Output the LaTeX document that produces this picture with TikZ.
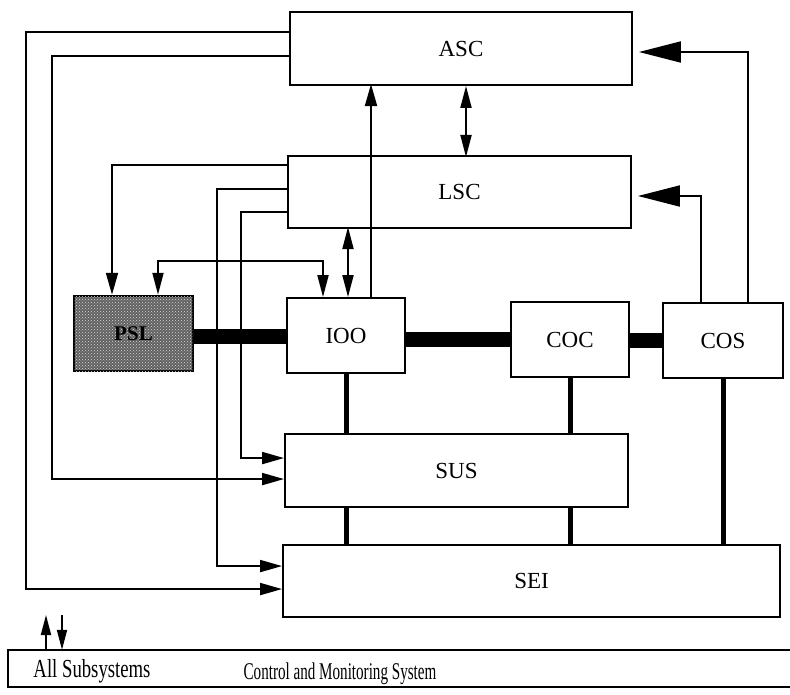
\documentclass[tikz,border=0pt]{standalone}
\usepackage{fontspec}
\usepackage{graphicx}
\setmainfont{Liberation Serif}
\usetikzlibrary{arrows.meta,patterns}
\begin{document}
\begin{tikzpicture}[x=1pt,y=-1pt,
  box/.style={draw, line width=1.9pt, inner sep=0pt, font=\fontsize{23}{25}\selectfont},
  wire/.style={line width=1.9pt},
  arr/.style={wire, -{Triangle[length=22pt,width=12pt]}},
  darr/.style={wire, {Triangle[length=22pt,width=11pt]}-{Triangle[length=22pt,width=11pt]}},
  bigarr/.style={wire, -{Triangle[length=42pt,width=21pt]}, shorten >=6pt},
  smallarr/.style={wire, -{Triangle[length=20pt,width=10pt]}},
  bus/.style={line width=15pt},
  stem/.style={line width=5pt}]
\useasboundingbox (0,0) rectangle (790,694);
\fill[white] (0,0) rectangle (790,694);

% boxes
\node[box, minimum width=342pt, minimum height=73pt] (asc) at (461,48.5) {ASC};
\node[box, minimum width=343pt, minimum height=72pt] (lsc) at (459.5,192) {LSC};
\node[box, line width=2.5pt, minimum width=119pt, minimum height=75pt, fill=black!62,
      postaction={pattern=crosshatch dots, pattern color=white!85!black},
      font=\fontsize{21}{23}\selectfont\bfseries] (psl) at (133.5,333.5) {PSL};
\node[box, minimum width=118pt, minimum height=75pt] (ioo) at (346,335.5) {IOO};
\node[box, minimum width=118pt, minimum height=75pt] (coc) at (570,339.5) {COC};
\node[box, minimum width=120pt, minimum height=75pt] (cos) at (723,340.5) {COS};
\node[box, minimum width=343pt, minimum height=73pt] (sus) at (456.5,470.5) {SUS};
\node[box, minimum width=497pt, minimum height=72pt] (sei) at (531.5,581) {SEI};

% bottom bar
\node[minimum width=790pt, minimum height=37pt, inner sep=0pt] (cms) at (403,668.5) {};
\draw[wire] (cms.north east) -- (cms.north west) -- (cms.south west) -- (cms.south east);
\node[anchor=base, inner sep=0pt, font=\fontsize{26}{28}\selectfont] (allsub) at (92,677)
  {\scalebox{0.72}[1]{All Subsystems}};
\node[anchor=base, inner sep=0pt, font=\fontsize{24}{26}\selectfont] (cmstext) at (340,679)
  {\scalebox{0.63}[1]{Control and Monitoring System}};
\coordinate (up) at (46,615);
\coordinate (dn) at (62,615);
\draw[smallarr] (cms.north west -| up) -- (up);
\draw[smallarr] (dn) -- (cms.north west -| dn);

% thick buses
\draw[bus] ([yshift=-2.5pt]psl.east) -- ++(94,0);
\draw[bus] (coc.west -| ioo.east) -- (coc.west);
\draw[bus] (cos.west -| coc.east) -- (cos.west);
\draw[stem] (ioo.south) -- (ioo.south |- sus.north);
\draw[stem] (coc.south) -- (coc.south |- sus.north);
\draw[stem] (sus.south -| ioo.south) -- (ioo.south |- sei.north);
\draw[stem] (sus.south -| coc.south) -- (coc.south |- sei.north);
\draw[stem] (cos.south) -- (cos.south |- sei.north);

% ASC left connectors
\draw[arr] ([yshift=-21pt]asc.north west) -- ++(-263,0) |- ([yshift=-45pt]sei.north west);
\draw[arr] ([yshift=-45pt]asc.north west) -- ++(-237,0) |- ([yshift=-46pt]sus.north west);

% LSC left connectors
\draw[arr] ([yshift=-10pt]lsc.north west) -| ([xshift=-21.5pt]psl.north);
\draw[arr] ([yshift=-34pt]lsc.north west) -- ++(-70,0) |- ([yshift=-22pt]sei.north west);
\draw[arr] ([yshift=-57pt]lsc.north west) -- ++(-46,0) |- ([yshift=-25pt]sus.north west);

% PSL <-> IOO
\draw[darr] ([xshift=24.5pt]psl.north) -- ++(0,-34) -| ([xshift=-23pt]ioo.north);
% LSC <-> IOO
\draw[darr] ([xshift=2pt]ioo.north) -- ++(0,-70);
% IOO -> ASC
\draw[arr] ([xshift=25pt]ioo.north) -- ++(0,-213);
% ASC <-> LSC
\draw[darr] ([xshift=5pt]asc.south) -- ++(0,71);
% COS -> ASC, LSC
\draw[bigarr] ([xshift=25pt]cos.north) |- ([yshift=-3.5pt]asc.east);
\draw[bigarr] ([xshift=-22pt]cos.north) |- ([yshift=-4pt]lsc.east);
\end{tikzpicture}
\end{document}
